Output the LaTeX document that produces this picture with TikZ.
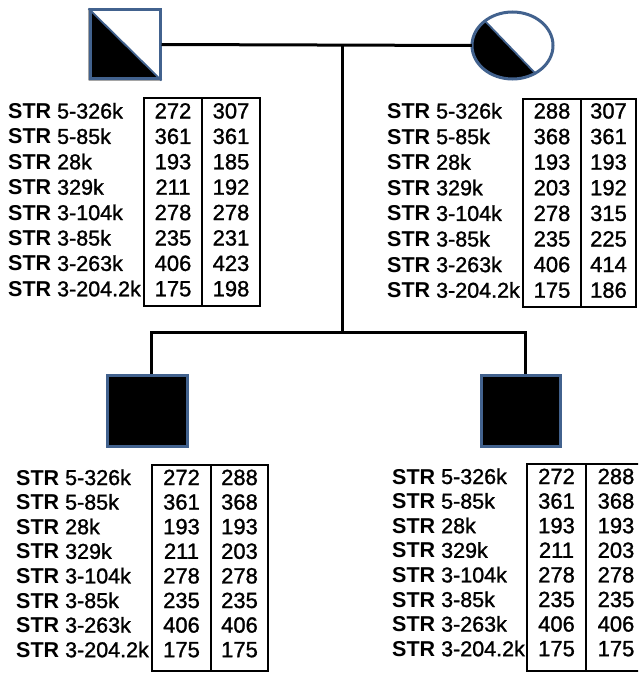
\documentclass[tikz,border=0pt]{standalone}
\usepackage{fontspec}
\setmainfont{Liberation Sans}
\newfontface\semib{Liberation Sans}[FakeBold=1.2]
\usetikzlibrary{shapes.geometric}
\definecolor{pblue}{RGB}{66,98,142}
\tikzset{
  conn/.style={line width=3pt, black},
  shapeborder/.style={draw=pblue, line width=3pt},
  tabbox/.style={draw=black, line width=1.8pt},
  lab/.style={anchor=base west, inner sep=0pt, font=\fontsize{21.5}{21.5}\selectfont},
  val/.style={anchor=base, inner sep=0pt, font=\fontsize{22}{22}\selectfont\semib},
}
\newcommand{\strtab}[9]{%
  % #1 name, #2 label x, #3 box left, #4 divider, #5 box right, #6 top, #7 bottom, #8 first baseline, #9 pitch
  \draw[tabbox] (#3,#6) rectangle (#5,#7);
  \draw[tabbox] (#4,#6) -- (#4,#7);
  \foreach \lb/\va/\vb [count=\i from 0] in \rows {
    \node[lab] (#1-l\i) at (#2,{#8+#9*\i}) {\textbf{STR} {\semib\lb}};
    \node[val] (#1-a\i) at ({(#3+#4)/2},{#8+#9*\i}) {\va};
    \node[val] (#1-b\i) at ({(#4+#5)/2},{#8+#9*\i}) {\vb};
  }%
}
\begin{document}
\begin{tikzpicture}[x=1pt,y=-1pt]
\clip (0,0) rectangle (638,674);
\fill[white] (0,0) rectangle (638,674);

% father
\node[shapeborder, minimum width=70pt, minimum height=69pt, inner sep=0pt] (father) at (125,44.5) {};
\fill[black] (father.north west) -- (father.south east) -- (father.south west) -- cycle;
\draw[pblue, line width=1.8pt] (father.north west) -- (father.south east);
\node[shapeborder, minimum width=70pt, minimum height=69pt, inner sep=0pt] at (father) {};

% mother
\node[ellipse, minimum width=81pt, minimum height=67pt, inner sep=0pt] (mother) at (512.5,45.5) {};
\begin{scope}
  \clip (512.5,45.5) ellipse [x radius=40.5pt, y radius=33.5pt];
  \fill[black] (465,0) -- (560,99) -- (465,99) -- cycle;
\end{scope}
\draw[pblue, line width=1.8pt] (485,21) -- (535,73);
\draw[shapeborder] (512.5,45.5) ellipse [x radius=40.5pt, y radius=33.5pt];

% children
\node[shapeborder, fill=black, minimum width=80pt, minimum height=71pt, inner sep=0pt] (child1) at (147,410.5) {};
\node[shapeborder, fill=black, minimum width=79pt, minimum height=71pt, inner sep=0pt] (child2) at (520.5,410.5) {};

% connectors
\coordinate (m) at (342,45);
\coordinate (s) at (342,332);
\coordinate (k1) at (151,374);
\coordinate (k2) at (525,374);
\draw[conn] (father.east) -- (mother.west);
\draw[conn] (m) -- (s);
\draw[conn] (k1) |- (s) -| (k2);

% tables
\def\rows{5-326k/272/307, 5-85k/361/361, 28k/193/185, 329k/211/192, 3-104k/278/278, 3-85k/235/231, 3-263k/406/423, 3-204.2k/175/198}
\strtab{tf}{8}{144}{202}{260}{98}{306}{118.5}{25.4}
\def\rows{5-326k/288/307, 5-85k/368/361, 28k/193/193, 329k/203/192, 3-104k/278/315, 3-85k/235/225, 3-263k/406/414, 3-204.2k/175/186}
\strtab{tm}{387}{523}{581}{636}{99}{307}{118.5}{25.6}
\def\rows{5-326k/272/288, 5-85k/361/368, 28k/193/193, 329k/211/203, 3-104k/278/278, 3-85k/235/235, 3-263k/406/406, 3-204.2k/175/175}
\strtab{tc}{16}{152}{211}{268}{465}{671}{485}{24.6}
\strtab{td}{392}{527}{586}{646}{464}{671}{484}{24.6}
\end{tikzpicture}
\end{document}
